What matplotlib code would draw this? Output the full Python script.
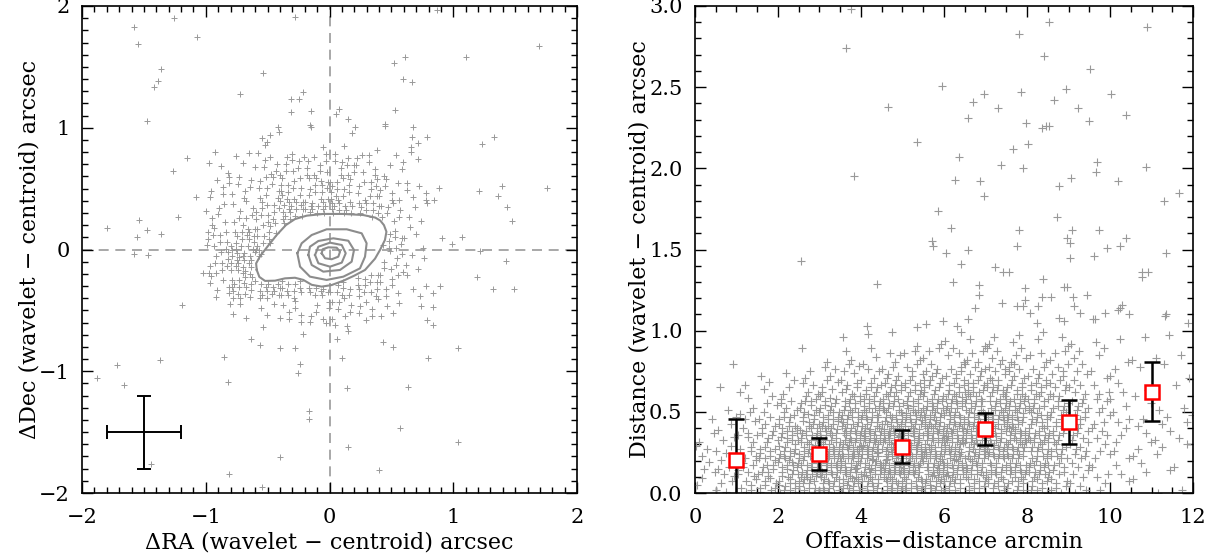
import numpy as np
import matplotlib as mpl
mpl.use('Agg')
import matplotlib.pyplot as plt
from matplotlib.path import Path
from matplotlib.ticker import MultipleLocator, FormatStrFormatter

plt.rcParams['font.family'] = ['DejaVu Serif']
plt.rcParams['axes.unicode_minus'] = True

# ---------------- left panel: position offsets (arcsec) ----------------
# sparse sources, read one by one
off_ra = [-1.58, -1.254, -1.545, -1.073, -0.279, -1.362, -1.389, -1.416, -0.535, -0.723,
          -1.477, 0.61, 0.524, 1.1, 1.696, 0.591, 0.664, -0.311, -0.244, -0.211,
          0.079, 0.052, -0.152, -0.311, 0.147, 0.53, 0.449, 0.452, 0.677, 0.209,
          -0.158, -0.15, -0.414, -0.408, -0.481, -0.545, -0.508, -0.52, 1.332, 1.229,
          0.664, 0.718, 0.656, 0.656, 0.788, 0.179, 0.12, -0.055, 0.381, -1.149,
          -1.262, -1.079, -1.227, -1.542, -1.8, -1.477, -1.558, -1.362, -1.58, -1.464,
          1.364, 1.39, 1.211, 1.755, 1.437, 1.475, 0.912, 1.068, 0.988, 1.216,
          1.426, 1.189, 1.318, 1.491, 0.893, 0.834, 0.834, 0.839, 0.793, 1.041,
          0.435, 0.51, 0.637, 0.57, 1.036, 0.4, 0.147, 0.139, 0.103, 0.058,
          -0.028, 0.045, 0.139, 0.153, -0.163, -0.163, -0.252, -0.238, -0.279, -0.211,
          -0.4, -0.559, -0.637, -0.54, -0.85, -0.823, -1.37, -1.714, -1.881, -1.658,
          -1.445, -0.812, -0.548, -0.4, -1.194, -1.025, 0.866, 0.845, 0.888]
off_dec = [1.83, 1.899, 1.688, 1.743, 1.907, 1.48, 1.384, 1.332, 1.447, 1.277,
           1.053, 1.578, 1.534, 1.578, 1.674, 1.4, 1.373, 1.236, 1.236, 1.296,
           1.151, 1.11, 1.14, 1.13, 1.069, 1.146, 1.03, 1.015, 1.009, 1.009,
           1.02, 1.009, 1.009, 0.962, 0.943, 0.915, 0.885, 0.862, 0.921, 0.867,
           0.927, 0.872, 0.845, 0.804, 0.927, 0.954, 0.853, 0.845, 0.817, 0.749,
           0.648, 0.429, 0.264, 0.242, 0.176, 0.16, 0.1, 0.128, -0.037, -0.048,
           0.442, 0.521, 0.477, 0.502, 0.352, 0.234, 0.092, 0.1, 0.048, -0.01,
           -0.097, -0.223, -0.322, -0.328, -0.297, -0.36, -0.47, -0.62, -0.888, -0.807,
           -0.757, -0.798, -1.127, -1.469, -1.579, -1.811, -1.62, -1.135, -0.888, -0.738,
           -0.607, -0.62, -0.63, -0.67, -1.327, -1.392, -1.017, -0.943, -0.806, -0.698,
           -0.812, -0.785, -0.733, -0.634, -0.88, -1.091, -0.908, -0.949, -1.058, -1.113,
           -1.762, -1.847, -1.954, -1.702, -0.456, -0.19, 1.97, 0.407, 0.502]

# crowded core: number of sources per 0.2" cell outside the lowest contour
core_ra_edges = [-1.0, -0.8, -0.6, -0.4, -0.2, 0.0, 0.2, 0.4, 0.6, 0.8]
core_dec_edges = [0.8, 0.6, 0.4, 0.2, 0.0, -0.2, -0.4, -0.6]
core_counts = [
    [4, 4, 7, 10, 10, 10, 8, 5, 1],
    [7, 7, 10, 13, 13, 14, 10, 8, 6],
    [7, 8, 14, 17, 12, 12, 10, 8, 4],
    [11, 18, 11, 0, 0, 0, 0, 9, 4],
    [11, 22, 4, 0, 0, 0, 0, 8, 4],
    [7, 17, 15, 12, 8, 8, 14, 8, 4],
    [1, 3, 4, 7, 7, 8, 7, 4, 2],
]

# density contours, outermost first
contours = [
    ([-0.588, -0.593, -0.560, -0.502, -0.427, -0.352, -0.279, -0.184, -0.05, 0.112,
      0.273, 0.37, 0.41, 0.44, 0.46, 0.448, 0.408, 0.368, 0.287, 0.2,
      0.115, 0.017, -0.063, -0.144, -0.211, -0.279, -0.36, -0.44, -0.521, -0.567],
     [-0.168, -0.114, -0.053, 0.023, 0.119, 0.201, 0.25, 0.278, 0.292, 0.292,
      0.283, 0.262, 0.238, 0.2, 0.146, 0.078, -0.004, -0.075, -0.168, -0.215,
      -0.255, -0.292, -0.305, -0.29, -0.25, -0.232, -0.237, -0.256, -0.258, -0.225]),
    ([-0.26, -0.238, -0.158, -0.023, 0.112, 0.246, 0.287, 0.30, 0.26, 0.139, -0.023, -0.144, -0.225],
     [-0.031, -0.141, -0.223, -0.25, -0.223, -0.155, -0.059, 0.051, 0.133, 0.166, 0.166, 0.119, 0.051]),
    ([-0.171, -0.144, -0.05, 0.085, 0.179, 0.198, 0.152, 0.031, -0.09, -0.158],
     [-0.045, -0.127, -0.182, -0.168, -0.10, -0.004, 0.072, 0.092, 0.07, 0.023]),
    ([-0.117, -0.09, 0.004, 0.099, 0.131, 0.099, 0.004, -0.09],
     [-0.045, -0.113, -0.141, -0.108, -0.031, 0.037, 0.056, 0.023]),
    ([-0.063, -0.036, 0.018, 0.071, 0.085, 0.058, -0.01, -0.055],
     [-0.031, -0.072, -0.08, -0.059, -0.018, 0.015, 0.018, 0.002]),
]

# typical 1-sigma positional error
err_ra, err_dec = 0.3, 0.3

# ---------------- right panel: offset vs off-axis distance ----------------
# sources beyond 1 arcsec, read one by one
far_offaxis = [3.76, 3.63, 8.54, 10.88, 7.80, 8.41, 9.53, 5.96, 8.94, 7.86, 6.97, 10.02,
               6.71, 8.65, 7.29, 9.24, 10.38, 4.66, 6.57, 9.50, 7.98, 8.35, 8.45, 8.54,
               5.34, 7.67, 8.03, 9.69, 9.66, 7.37, 7.91, 6.35, 3.84, 6.27, 6.87, 6.97,
               9.05, 10.2, 10.87, 11.67, 8.76, 11.31, 5.86, 8.73, 6.18, 7.81, 9.09, 9.73,
               8.96, 9.04, 5.72, 5.74, 7.77, 10.39, 10.24, 9.92, 11.35, 6.59, 6.04, 9.61,
               9.04, 2.55, 6.42, 7.24, 7.43, 7.57, 10.76, 10.92, 10.78, 6.21, 4.38, 8.39,
               8.88, 8.97, 7.95, 6.85, 9.12, 9.44, 8.37, 8.58, 6.84, 7.95, 7.39, 11.33,
               11.36, 10.28, 10.24, 10.19, 10.46, 9.89, 9.58, 9.64, 11.87, 9.14, 9.28, 8.78,
               8.27, 8.07, 7.75, 7.91, 6.75, 6.57, 5.98, 6.31, 4.14, 5.57, 5.34, 8.88, 8.23]
far_dist = [2.98, 2.74, 2.90, 2.87, 2.83, 2.69, 2.61, 2.51, 2.49, 2.47, 2.46, 2.46,
            2.41, 2.42, 2.37, 2.37, 2.33, 2.38, 2.31, 2.29, 2.28, 2.25, 2.26, 2.26,
            2.16, 2.12, 2.15, 2.04, 1.98, 2.02, 2.0, 2.07, 1.95, 1.93, 1.92, 1.83,
            1.94, 1.92, 2.01, 1.85, 1.89, 1.80, 1.74, 1.70, 1.63, 1.62, 1.62, 1.62,
            1.57, 1.54, 1.55, 1.52, 1.52, 1.57, 1.52, 1.51, 1.48, 1.50, 1.48, 1.46,
            1.45, 1.43, 1.41, 1.39, 1.36, 1.36, 1.36, 1.36, 1.33, 1.30, 1.29, 1.32,
            1.27, 1.27, 1.26, 1.28, 1.21, 1.22, 1.21, 1.21, 1.22, 1.19, 1.17, 1.09,
            1.10, 1.16, 1.14, 1.13, 1.10, 1.11, 1.07, 1.07, 1.05, 1.15, 1.11, 1.08,
            1.15, 1.11, 1.15, 1.15, 1.14, 1.07, 1.06, 1.03, 1.03, 1.04, 1.02, 1.06, 1.05]

# bulk of the sample: counts per cell, 0.5' in off-axis x 0.1" in distance
near_offaxis_edges = np.arange(0.0, 12.01, 0.5)
near_dist_edges = np.arange(0.0, 1.01, 0.1)
near_counts = [  # one row per off-axis bin, distance bins from 0 upwards
    [2, 3, 3, 2, 1, 0, 0, 0, 0, 0],
    [4, 4, 4, 3, 2, 1, 1, 1, 0, 0],
    [6, 7, 6, 5, 4, 2, 2, 0, 0, 0],
    [8, 9, 9, 8, 5, 3, 2, 1, 0, 0],
    [11, 13, 13, 12, 9, 5, 3, 1, 0, 0],
    [12, 15, 16, 14, 11, 8, 4, 2, 1, 0],
    [14, 18, 18, 16, 12, 9, 5, 3, 1, 0],
    [15, 19, 19, 18, 14, 11, 7, 4, 2, 1],
    [15, 19, 20, 19, 15, 12, 8, 4, 2, 1],
    [16, 21, 21, 20, 16, 13, 9, 5, 3, 1],
    [15, 20, 20, 19, 16, 13, 9, 5, 3, 1],
    [14, 19, 20, 19, 16, 13, 9, 6, 3, 1],
    [12, 17, 19, 19, 16, 13, 10, 6, 4, 2],
    [11, 16, 17, 17, 16, 13, 10, 6, 4, 2],
    [11, 15, 16, 16, 15, 13, 10, 6, 4, 2],
    [11, 15, 16, 16, 15, 12, 9, 6, 4, 2],
    [9, 12, 13, 13, 12, 10, 8, 5, 3, 2],
    [7, 9, 10, 10, 10, 9, 6, 5, 3, 2],
    [4, 6, 7, 7, 7, 6, 5, 3, 2, 1],
    [2, 3, 4, 4, 4, 3, 3, 2, 2, 1],
    [1, 2, 2, 3, 3, 2, 2, 2, 1, 1],
    [1, 2, 2, 2, 2, 2, 1, 1, 1, 1],
    [1, 1, 2, 2, 2, 1, 1, 1, 1, 1],
    [1, 1, 1, 1, 2, 1, 1, 1, 1, 0],
]

# binned means and their errors
bin_offaxis = [1, 3, 5, 7, 9, 11]
bin_mean = [0.204, 0.241, 0.286, 0.394, 0.437, 0.623]
bin_err = [0.252, 0.097, 0.104, 0.096, 0.138, 0.182]


def fill_cell(x0, x1, y0, y1, n, seed, skip=None):
    """Lay n points evenly over a cell (R2 low-discrepancy order),
    leaving out anything inside the path `skip`."""
    a1, a2 = 0.7548776662466927, 0.5698402909980532
    s1, s2 = (seed * 0.6180339887) % 1.0, (seed * 0.4142135624) % 1.0
    xs, ys = [], []
    j = 0
    while len(xs) < n and j < 400 * max(n, 1):
        u = (s1 + j * a1) % 1.0
        v = (s2 + j * a2) % 1.0
        j += 1
        px, py = x0 + u * (x1 - x0), y0 + v * (y1 - y0)
        if skip is not None and skip.contains_point((px, py)):
            continue
        xs.append(px)
        ys.append(py)
    return xs, ys


def style_axes(ax):
    ax.tick_params(which='both', direction='in', top=True, right=True,
                   width=1.0, labelsize=15, pad=11)
    ax.tick_params(axis='y', pad=9)
    ax.tick_params(which='major', length=8)
    ax.tick_params(which='minor', length=4)
    for s in ax.spines.values():
        s.set_linewidth(1.2)


fig = plt.figure(figsize=(12.15, 5.55), dpi=100)
ax1 = fig.add_axes([0.0675, 0.1117, 0.4074, 0.8775])
ax2 = fig.add_axes([0.572, 0.1117, 0.4099, 0.8775])

# ---- left ----
outer = Path(np.column_stack(contours[0]))
core_x, core_y = [], []
k = 0
for i, row in enumerate(core_counts):
    for j, n in enumerate(row):
        xs, ys = fill_cell(core_ra_edges[j], core_ra_edges[j + 1],
                           core_dec_edges[i + 1], core_dec_edges[i], n, k + 1, outer)
        core_x += xs
        core_y += ys
        k += 1

ax1.axhline(0, color='0.6', lw=1.2, ls=(0, (6, 4)), zorder=1)
ax1.axvline(0, color='0.6', lw=1.2, ls=(0, (6, 4)), zorder=1)
ax1.plot(off_ra + core_x, off_dec + core_y, '+', color='0.6', ms=3.8, mew=0.7, zorder=2)
for cx, cy in contours:
    ax1.plot(cx + cx[:1], cy + cy[:1], color='0.55', lw=1.5, zorder=3)
ax1.errorbar(-1.5, -1.5, xerr=err_ra, yerr=err_dec, fmt='none', ecolor='k',
             elinewidth=1.4, capsize=5, capthick=1.4, zorder=4)

ax1.set_xlim(-2, 2)
ax1.set_ylim(-2, 2)
ax1.xaxis.set_major_locator(MultipleLocator(1))
ax1.yaxis.set_major_locator(MultipleLocator(1))
ax1.xaxis.set_minor_locator(MultipleLocator(0.1))
ax1.yaxis.set_minor_locator(MultipleLocator(0.1))
style_axes(ax1)
ax1.set_xlabel('\u0394RA (wavelet \u2212 centroid) arcsec', fontsize=16, labelpad=3)
ax1.set_ylabel('\u0394Dec (wavelet \u2212 centroid) arcsec', fontsize=16, labelpad=-1)

# ---- right ----
near_x, near_y = [], []
k = 0
for i, col in enumerate(near_counts):
    for j, n in enumerate(col):
        xs, ys = fill_cell(near_offaxis_edges[i], near_offaxis_edges[i + 1],
                           near_dist_edges[j], near_dist_edges[j + 1], n, k + 7)
        near_x += xs
        near_y += ys
        k += 1

ax2.plot(far_offaxis + near_x, far_dist + near_y, '+', color='0.6', ms=5.5, mew=0.8, zorder=2)
ax2.errorbar(bin_offaxis, bin_mean, yerr=bin_err, fmt='none', ecolor='k',
             elinewidth=1.8, capsize=6, capthick=1.8, zorder=3)
ax2.plot(bin_offaxis, bin_mean, 's', ms=10.5, mfc='white', mec='red', mew=1.8, zorder=4)

ax2.set_xlim(0, 12)
ax2.set_ylim(0, 3.0)
ax2.xaxis.set_major_locator(MultipleLocator(2))
ax2.xaxis.set_minor_locator(MultipleLocator(0.5))
ax2.yaxis.set_major_locator(MultipleLocator(0.5))
ax2.yaxis.set_minor_locator(MultipleLocator(0.1))
ax2.yaxis.set_major_formatter(FormatStrFormatter('%.1f'))
style_axes(ax2)
ax2.set_xlabel('Offaxis\u2212distance arcmin', fontsize=16, labelpad=3)
ax2.set_ylabel('Distance (wavelet \u2212 centroid) arcsec', fontsize=16, labelpad=-1)

# digits sit on the tick a little lower, which also keeps the top labels inside
for ax in (ax1, ax2):
    for lab in ax.get_yticklabels():
        lab.set_verticalalignment('center_baseline')

fig.savefig('out.png', dpi=100)
